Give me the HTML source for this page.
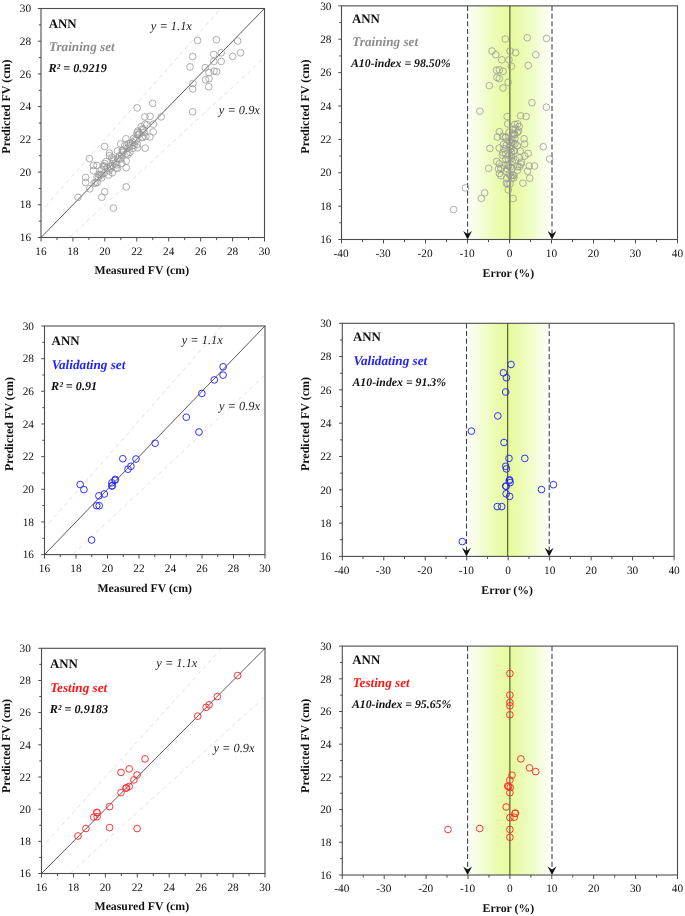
<!DOCTYPE html>
<html><head><meta charset="utf-8"><title>ANN FV prediction</title>
<style>html,body{margin:0;padding:0;background:#fff;}svg{display:block;}text{font-family:"Liberation Serif",serif;}</style></head>
<body>
<svg width="685" height="916" viewBox="0 0 685 916" style="will-change:transform" text-rendering="geometricPrecision">
<rect width="685" height="916" fill="#fff"/>
<defs><linearGradient id="gg" x1="0" x2="1" y1="0" y2="0"><stop offset="0" stop-color="#ffffff"/><stop offset="0.23" stop-color="#f0fdc8"/><stop offset="0.5" stop-color="#e6fb98"/><stop offset="0.77" stop-color="#f0fdc8"/><stop offset="1" stop-color="#ffffff"/></linearGradient></defs>
<clipPath id="ctl"><rect x="41.0" y="8.5" width="223.5" height="229.0"/></clipPath>
<g clip-path="url(#ctl)">
<line x1="9.07" y1="247.31" x2="264.50" y2="-40.57" stroke="#dcdcdc" stroke-width="0.9" stroke-dasharray="4.2 3.6"/>
<line x1="41.00" y1="263.67" x2="296.43" y2="28.13" stroke="#dcdcdc" stroke-width="0.9" stroke-dasharray="4.2 3.6"/>
<line x1="41.00" y1="237.50" x2="264.50" y2="8.50" stroke="#5a5a5a" stroke-width="1"/>
<circle cx="78.0" cy="197.3" r="3.35" fill="none" stroke="#989898" stroke-width="0.78"/>
<circle cx="113.4" cy="208.1" r="3.35" fill="none" stroke="#989898" stroke-width="0.78"/>
<circle cx="101.8" cy="197.2" r="3.35" fill="none" stroke="#989898" stroke-width="0.78"/>
<circle cx="104.7" cy="191.8" r="3.35" fill="none" stroke="#989898" stroke-width="0.78"/>
<circle cx="126.2" cy="186.9" r="3.35" fill="none" stroke="#989898" stroke-width="0.78"/>
<circle cx="89.4" cy="158.6" r="3.35" fill="none" stroke="#989898" stroke-width="0.78"/>
<circle cx="104.6" cy="146.5" r="3.35" fill="none" stroke="#989898" stroke-width="0.78"/>
<circle cx="85.6" cy="177.4" r="3.35" fill="none" stroke="#989898" stroke-width="0.78"/>
<circle cx="85.6" cy="182.3" r="3.35" fill="none" stroke="#989898" stroke-width="0.78"/>
<circle cx="89.7" cy="188.8" r="3.35" fill="none" stroke="#989898" stroke-width="0.78"/>
<circle cx="109.4" cy="153.1" r="3.35" fill="none" stroke="#989898" stroke-width="0.78"/>
<circle cx="109.4" cy="155.7" r="3.35" fill="none" stroke="#989898" stroke-width="0.78"/>
<circle cx="120.7" cy="143.9" r="3.35" fill="none" stroke="#989898" stroke-width="0.78"/>
<circle cx="125.9" cy="138.8" r="3.35" fill="none" stroke="#989898" stroke-width="0.78"/>
<circle cx="145.2" cy="148.2" r="3.35" fill="none" stroke="#989898" stroke-width="0.78"/>
<circle cx="149.9" cy="137.0" r="3.35" fill="none" stroke="#989898" stroke-width="0.78"/>
<circle cx="153.2" cy="131.9" r="3.35" fill="none" stroke="#989898" stroke-width="0.78"/>
<circle cx="153.5" cy="124.2" r="3.35" fill="none" stroke="#989898" stroke-width="0.78"/>
<circle cx="161.2" cy="116.9" r="3.35" fill="none" stroke="#989898" stroke-width="0.78"/>
<circle cx="150.0" cy="116.3" r="3.35" fill="none" stroke="#989898" stroke-width="0.78"/>
<circle cx="144.9" cy="116.9" r="3.35" fill="none" stroke="#989898" stroke-width="0.78"/>
<circle cx="144.9" cy="124.2" r="3.35" fill="none" stroke="#989898" stroke-width="0.78"/>
<circle cx="126.2" cy="167.7" r="3.35" fill="none" stroke="#989898" stroke-width="0.78"/>
<circle cx="126.2" cy="161.1" r="3.35" fill="none" stroke="#989898" stroke-width="0.78"/>
<circle cx="93.4" cy="165.5" r="3.35" fill="none" stroke="#989898" stroke-width="0.78"/>
<circle cx="97.0" cy="165.5" r="3.35" fill="none" stroke="#989898" stroke-width="0.78"/>
<circle cx="93.4" cy="170.6" r="3.35" fill="none" stroke="#989898" stroke-width="0.78"/>
<circle cx="104.7" cy="163.6" r="3.35" fill="none" stroke="#989898" stroke-width="0.78"/>
<circle cx="104.7" cy="166.2" r="3.35" fill="none" stroke="#989898" stroke-width="0.78"/>
<circle cx="137.2" cy="132.6" r="3.35" fill="none" stroke="#989898" stroke-width="0.78"/>
<circle cx="137.2" cy="134.8" r="3.35" fill="none" stroke="#989898" stroke-width="0.78"/>
<circle cx="142.3" cy="129.0" r="3.35" fill="none" stroke="#989898" stroke-width="0.78"/>
<circle cx="142.3" cy="137.7" r="3.35" fill="none" stroke="#989898" stroke-width="0.78"/>
<circle cx="133.5" cy="138.5" r="3.35" fill="none" stroke="#989898" stroke-width="0.78"/>
<circle cx="137.2" cy="144.3" r="3.35" fill="none" stroke="#989898" stroke-width="0.78"/>
<circle cx="129.9" cy="145.8" r="3.35" fill="none" stroke="#989898" stroke-width="0.78"/>
<circle cx="129.9" cy="152.3" r="3.35" fill="none" stroke="#989898" stroke-width="0.78"/>
<circle cx="117.4" cy="150.9" r="3.35" fill="none" stroke="#989898" stroke-width="0.78"/>
<circle cx="117.4" cy="158.2" r="3.35" fill="none" stroke="#989898" stroke-width="0.78"/>
<circle cx="121.8" cy="155.3" r="3.35" fill="none" stroke="#989898" stroke-width="0.78"/>
<circle cx="121.8" cy="163.3" r="3.35" fill="none" stroke="#989898" stroke-width="0.78"/>
<circle cx="117.4" cy="168.4" r="3.35" fill="none" stroke="#989898" stroke-width="0.78"/>
<circle cx="112.3" cy="172.8" r="3.35" fill="none" stroke="#989898" stroke-width="0.78"/>
<circle cx="108.7" cy="175.0" r="3.35" fill="none" stroke="#989898" stroke-width="0.78"/>
<circle cx="101.4" cy="175.0" r="3.35" fill="none" stroke="#989898" stroke-width="0.78"/>
<circle cx="97.0" cy="177.2" r="3.35" fill="none" stroke="#989898" stroke-width="0.78"/>
<circle cx="94.1" cy="183.0" r="3.35" fill="none" stroke="#989898" stroke-width="0.78"/>
<circle cx="101.4" cy="169.9" r="3.35" fill="none" stroke="#989898" stroke-width="0.78"/>
<circle cx="112.3" cy="165.5" r="3.35" fill="none" stroke="#989898" stroke-width="0.78"/>
<circle cx="113.8" cy="161.1" r="3.35" fill="none" stroke="#989898" stroke-width="0.78"/>
<circle cx="197.6" cy="40.4" r="3.35" fill="none" stroke="#989898" stroke-width="0.78"/>
<circle cx="216.4" cy="39.7" r="3.35" fill="none" stroke="#989898" stroke-width="0.78"/>
<circle cx="237.7" cy="41.0" r="3.35" fill="none" stroke="#989898" stroke-width="0.78"/>
<circle cx="240.6" cy="52.8" r="3.35" fill="none" stroke="#989898" stroke-width="0.78"/>
<circle cx="232.7" cy="56.4" r="3.35" fill="none" stroke="#989898" stroke-width="0.78"/>
<circle cx="221.2" cy="52.8" r="3.35" fill="none" stroke="#989898" stroke-width="0.78"/>
<circle cx="213.8" cy="54.4" r="3.35" fill="none" stroke="#989898" stroke-width="0.78"/>
<circle cx="221.2" cy="61.4" r="3.35" fill="none" stroke="#989898" stroke-width="0.78"/>
<circle cx="213.8" cy="61.4" r="3.35" fill="none" stroke="#989898" stroke-width="0.78"/>
<circle cx="192.7" cy="56.5" r="3.35" fill="none" stroke="#989898" stroke-width="0.78"/>
<circle cx="190.0" cy="66.9" r="3.35" fill="none" stroke="#989898" stroke-width="0.78"/>
<circle cx="205.2" cy="67.7" r="3.35" fill="none" stroke="#989898" stroke-width="0.78"/>
<circle cx="214.0" cy="71.2" r="3.35" fill="none" stroke="#989898" stroke-width="0.78"/>
<circle cx="216.6" cy="71.6" r="3.35" fill="none" stroke="#989898" stroke-width="0.78"/>
<circle cx="208.8" cy="72.6" r="3.35" fill="none" stroke="#989898" stroke-width="0.78"/>
<circle cx="205.5" cy="79.8" r="3.35" fill="none" stroke="#989898" stroke-width="0.78"/>
<circle cx="209.0" cy="78.7" r="3.35" fill="none" stroke="#989898" stroke-width="0.78"/>
<circle cx="208.8" cy="86.7" r="3.35" fill="none" stroke="#989898" stroke-width="0.78"/>
<circle cx="193.0" cy="83.5" r="3.35" fill="none" stroke="#989898" stroke-width="0.78"/>
<circle cx="192.6" cy="89.0" r="3.35" fill="none" stroke="#989898" stroke-width="0.78"/>
<circle cx="192.6" cy="111.8" r="3.35" fill="none" stroke="#989898" stroke-width="0.78"/>
<circle cx="137.2" cy="107.8" r="3.35" fill="none" stroke="#989898" stroke-width="0.78"/>
<circle cx="152.7" cy="103.4" r="3.35" fill="none" stroke="#989898" stroke-width="0.78"/>
<circle cx="137.5" cy="147.8" r="3.35" fill="none" stroke="#989898" stroke-width="0.78"/>
<circle cx="127.0" cy="148.4" r="3.35" fill="none" stroke="#989898" stroke-width="0.78"/>
<circle cx="132.8" cy="148.4" r="3.35" fill="none" stroke="#989898" stroke-width="0.78"/>
<circle cx="122.3" cy="150.7" r="3.35" fill="none" stroke="#989898" stroke-width="0.78"/>
<circle cx="95.7" cy="183.0" r="3.35" fill="none" stroke="#989898" stroke-width="0.78"/>
<circle cx="97.3" cy="182.4" r="3.35" fill="none" stroke="#989898" stroke-width="0.78"/>
<circle cx="98.5" cy="177.3" r="3.35" fill="none" stroke="#989898" stroke-width="0.78"/>
<circle cx="99.1" cy="174.7" r="3.35" fill="none" stroke="#989898" stroke-width="0.78"/>
<circle cx="100.3" cy="174.5" r="3.35" fill="none" stroke="#989898" stroke-width="0.78"/>
<circle cx="101.6" cy="177.8" r="3.35" fill="none" stroke="#989898" stroke-width="0.78"/>
<circle cx="103.3" cy="166.1" r="3.35" fill="none" stroke="#989898" stroke-width="0.78"/>
<circle cx="104.2" cy="173.3" r="3.35" fill="none" stroke="#989898" stroke-width="0.78"/>
<circle cx="106.1" cy="161.7" r="3.35" fill="none" stroke="#989898" stroke-width="0.78"/>
<circle cx="107.3" cy="167.9" r="3.35" fill="none" stroke="#989898" stroke-width="0.78"/>
<circle cx="109.0" cy="170.8" r="3.35" fill="none" stroke="#989898" stroke-width="0.78"/>
<circle cx="110.2" cy="166.4" r="3.35" fill="none" stroke="#989898" stroke-width="0.78"/>
<circle cx="110.5" cy="168.3" r="3.35" fill="none" stroke="#989898" stroke-width="0.78"/>
<circle cx="112.0" cy="157.4" r="3.35" fill="none" stroke="#989898" stroke-width="0.78"/>
<circle cx="113.1" cy="159.5" r="3.35" fill="none" stroke="#989898" stroke-width="0.78"/>
<circle cx="114.9" cy="163.9" r="3.35" fill="none" stroke="#989898" stroke-width="0.78"/>
<circle cx="116.0" cy="167.8" r="3.35" fill="none" stroke="#989898" stroke-width="0.78"/>
<circle cx="116.7" cy="164.8" r="3.35" fill="none" stroke="#989898" stroke-width="0.78"/>
<circle cx="118.7" cy="159.1" r="3.35" fill="none" stroke="#989898" stroke-width="0.78"/>
<circle cx="119.5" cy="155.7" r="3.35" fill="none" stroke="#989898" stroke-width="0.78"/>
<circle cx="120.9" cy="158.9" r="3.35" fill="none" stroke="#989898" stroke-width="0.78"/>
<circle cx="122.6" cy="150.6" r="3.35" fill="none" stroke="#989898" stroke-width="0.78"/>
<circle cx="123.2" cy="152.1" r="3.35" fill="none" stroke="#989898" stroke-width="0.78"/>
<circle cx="124.8" cy="145.5" r="3.35" fill="none" stroke="#989898" stroke-width="0.78"/>
<circle cx="126.3" cy="153.6" r="3.35" fill="none" stroke="#989898" stroke-width="0.78"/>
<circle cx="127.9" cy="154.7" r="3.35" fill="none" stroke="#989898" stroke-width="0.78"/>
<circle cx="128.4" cy="143.7" r="3.35" fill="none" stroke="#989898" stroke-width="0.78"/>
<circle cx="129.3" cy="147.2" r="3.35" fill="none" stroke="#989898" stroke-width="0.78"/>
<circle cx="130.4" cy="143.1" r="3.35" fill="none" stroke="#989898" stroke-width="0.78"/>
<circle cx="132.6" cy="142.4" r="3.35" fill="none" stroke="#989898" stroke-width="0.78"/>
<circle cx="134.0" cy="145.3" r="3.35" fill="none" stroke="#989898" stroke-width="0.78"/>
<circle cx="135.0" cy="139.6" r="3.35" fill="none" stroke="#989898" stroke-width="0.78"/>
<circle cx="136.1" cy="140.7" r="3.35" fill="none" stroke="#989898" stroke-width="0.78"/>
<circle cx="137.7" cy="131.1" r="3.35" fill="none" stroke="#989898" stroke-width="0.78"/>
<circle cx="138.5" cy="134.9" r="3.35" fill="none" stroke="#989898" stroke-width="0.78"/>
<circle cx="139.3" cy="133.5" r="3.35" fill="none" stroke="#989898" stroke-width="0.78"/>
<circle cx="141.2" cy="126.7" r="3.35" fill="none" stroke="#989898" stroke-width="0.78"/>
<circle cx="142.7" cy="136.8" r="3.35" fill="none" stroke="#989898" stroke-width="0.78"/>
<circle cx="143.4" cy="129.8" r="3.35" fill="none" stroke="#989898" stroke-width="0.78"/>
<circle cx="144.2" cy="132.4" r="3.35" fill="none" stroke="#989898" stroke-width="0.78"/>
<circle cx="145.7" cy="136.5" r="3.35" fill="none" stroke="#989898" stroke-width="0.78"/>
<circle cx="146.8" cy="124.7" r="3.35" fill="none" stroke="#989898" stroke-width="0.78"/>
</g>
<rect x="41.00" y="8.50" width="223.50" height="229.00" fill="none" stroke="#4d4d4d" stroke-width="1.1"/>
<text x="150.80" y="29.50" font-size="12.4" font-style="italic" font-family="Liberation Serif, serif" fill="#222">y = 1.1x</text>
<text x="218.80" y="114.40" font-size="12.4" font-style="italic" font-family="Liberation Serif, serif" fill="#222">y = 0.9x</text>
<line x1="37.80" y1="237.50" x2="41.00" y2="237.50" stroke="#4d4d4d" stroke-width="1"/>
<text x="31.10" y="241.20" text-anchor="end" font-size="11.3" font-family="Liberation Serif, serif" fill="#111">16</text>
<line x1="38.80" y1="221.14" x2="41.00" y2="221.14" stroke="#4d4d4d" stroke-width="1"/>
<line x1="37.80" y1="204.79" x2="41.00" y2="204.79" stroke="#4d4d4d" stroke-width="1"/>
<text x="31.10" y="208.49" text-anchor="end" font-size="11.3" font-family="Liberation Serif, serif" fill="#111">18</text>
<line x1="38.80" y1="188.43" x2="41.00" y2="188.43" stroke="#4d4d4d" stroke-width="1"/>
<line x1="37.80" y1="172.07" x2="41.00" y2="172.07" stroke="#4d4d4d" stroke-width="1"/>
<text x="31.10" y="175.77" text-anchor="end" font-size="11.3" font-family="Liberation Serif, serif" fill="#111">20</text>
<line x1="38.80" y1="155.71" x2="41.00" y2="155.71" stroke="#4d4d4d" stroke-width="1"/>
<line x1="37.80" y1="139.36" x2="41.00" y2="139.36" stroke="#4d4d4d" stroke-width="1"/>
<text x="31.10" y="143.06" text-anchor="end" font-size="11.3" font-family="Liberation Serif, serif" fill="#111">22</text>
<line x1="38.80" y1="123.00" x2="41.00" y2="123.00" stroke="#4d4d4d" stroke-width="1"/>
<line x1="37.80" y1="106.64" x2="41.00" y2="106.64" stroke="#4d4d4d" stroke-width="1"/>
<text x="31.10" y="110.34" text-anchor="end" font-size="11.3" font-family="Liberation Serif, serif" fill="#111">24</text>
<line x1="38.80" y1="90.29" x2="41.00" y2="90.29" stroke="#4d4d4d" stroke-width="1"/>
<line x1="37.80" y1="73.93" x2="41.00" y2="73.93" stroke="#4d4d4d" stroke-width="1"/>
<text x="31.10" y="77.63" text-anchor="end" font-size="11.3" font-family="Liberation Serif, serif" fill="#111">26</text>
<line x1="38.80" y1="57.57" x2="41.00" y2="57.57" stroke="#4d4d4d" stroke-width="1"/>
<line x1="37.80" y1="41.21" x2="41.00" y2="41.21" stroke="#4d4d4d" stroke-width="1"/>
<text x="31.10" y="44.91" text-anchor="end" font-size="11.3" font-family="Liberation Serif, serif" fill="#111">28</text>
<line x1="38.80" y1="24.86" x2="41.00" y2="24.86" stroke="#4d4d4d" stroke-width="1"/>
<line x1="37.80" y1="8.50" x2="41.00" y2="8.50" stroke="#4d4d4d" stroke-width="1"/>
<text x="31.10" y="12.20" text-anchor="end" font-size="11.3" font-family="Liberation Serif, serif" fill="#111">30</text>
<line x1="41.00" y1="237.50" x2="41.00" y2="241.50" stroke="#4d4d4d" stroke-width="1"/>
<text x="41.00" y="254.80" text-anchor="middle" font-size="11.3" font-family="Liberation Serif, serif" fill="#111">16</text>
<line x1="56.96" y1="237.50" x2="56.96" y2="240.10" stroke="#4d4d4d" stroke-width="1"/>
<line x1="72.93" y1="237.50" x2="72.93" y2="241.50" stroke="#4d4d4d" stroke-width="1"/>
<text x="72.93" y="254.80" text-anchor="middle" font-size="11.3" font-family="Liberation Serif, serif" fill="#111">18</text>
<line x1="88.89" y1="237.50" x2="88.89" y2="240.10" stroke="#4d4d4d" stroke-width="1"/>
<line x1="104.86" y1="237.50" x2="104.86" y2="241.50" stroke="#4d4d4d" stroke-width="1"/>
<text x="104.86" y="254.80" text-anchor="middle" font-size="11.3" font-family="Liberation Serif, serif" fill="#111">20</text>
<line x1="120.82" y1="237.50" x2="120.82" y2="240.10" stroke="#4d4d4d" stroke-width="1"/>
<line x1="136.79" y1="237.50" x2="136.79" y2="241.50" stroke="#4d4d4d" stroke-width="1"/>
<text x="136.79" y="254.80" text-anchor="middle" font-size="11.3" font-family="Liberation Serif, serif" fill="#111">22</text>
<line x1="152.75" y1="237.50" x2="152.75" y2="240.10" stroke="#4d4d4d" stroke-width="1"/>
<line x1="168.71" y1="237.50" x2="168.71" y2="241.50" stroke="#4d4d4d" stroke-width="1"/>
<text x="168.71" y="254.80" text-anchor="middle" font-size="11.3" font-family="Liberation Serif, serif" fill="#111">24</text>
<line x1="184.68" y1="237.50" x2="184.68" y2="240.10" stroke="#4d4d4d" stroke-width="1"/>
<line x1="200.64" y1="237.50" x2="200.64" y2="241.50" stroke="#4d4d4d" stroke-width="1"/>
<text x="200.64" y="254.80" text-anchor="middle" font-size="11.3" font-family="Liberation Serif, serif" fill="#111">26</text>
<line x1="216.61" y1="237.50" x2="216.61" y2="240.10" stroke="#4d4d4d" stroke-width="1"/>
<line x1="232.57" y1="237.50" x2="232.57" y2="241.50" stroke="#4d4d4d" stroke-width="1"/>
<text x="232.57" y="254.80" text-anchor="middle" font-size="11.3" font-family="Liberation Serif, serif" fill="#111">28</text>
<line x1="248.54" y1="237.50" x2="248.54" y2="240.10" stroke="#4d4d4d" stroke-width="1"/>
<line x1="264.50" y1="237.50" x2="264.50" y2="241.50" stroke="#4d4d4d" stroke-width="1"/>
<text x="264.50" y="254.80" text-anchor="middle" font-size="11.3" font-family="Liberation Serif, serif" fill="#111">30</text>
<text transform="translate(10.10,106.60) rotate(-90)" text-anchor="middle" font-size="12" font-weight="bold" font-family="Liberation Serif, serif" fill="#111">Predicted FV (cm)</text>
<text x="141.80" y="273.80" text-anchor="middle" font-size="11.8" font-weight="bold" font-family="Liberation Serif, serif" fill="#111">Measured FV (cm)</text>
<text x="48.70" y="27.70" font-size="12.9" font-weight="bold" font-family="Liberation Serif, serif" fill="#111">ANN</text>
<text x="48.90" y="50.60" font-size="13.2" font-weight="bold" font-style="italic" font-family="Liberation Serif, serif" fill="#8c8c8c">Training set</text>
<text x="48.40" y="71.80" font-size="12.2" font-weight="bold" font-style="italic" font-family="Liberation Serif, serif" fill="#111">R² = 0.9219</text>
<rect x="467.60" y="5.85" width="84.40" height="233.65" fill="url(#gg)"/>
<line x1="509.90" y1="5.85" x2="509.90" y2="239.50" stroke="#3a3a3a" stroke-width="1"/>
<line x1="467.60" y1="5.85" x2="467.60" y2="234.50" stroke="#3c3c3c" stroke-width="1.05" stroke-dasharray="5.1 2.6"/>
<path d="M467.60 239.50 L463.20 230.90 L467.60 234.10 L472.00 230.90 Z" fill="#111"/>
<line x1="552.00" y1="5.85" x2="552.00" y2="234.50" stroke="#3c3c3c" stroke-width="1.05" stroke-dasharray="5.1 2.6"/>
<path d="M552.00 239.50 L547.60 230.90 L552.00 234.10 L556.40 230.90 Z" fill="#111"/>
<circle cx="513.1" cy="198.5" r="3.35" fill="none" stroke="#989898" stroke-width="0.78"/>
<circle cx="453.6" cy="209.5" r="3.35" fill="none" stroke="#989898" stroke-width="0.78"/>
<circle cx="481.3" cy="198.4" r="3.35" fill="none" stroke="#989898" stroke-width="0.78"/>
<circle cx="484.6" cy="192.9" r="3.35" fill="none" stroke="#989898" stroke-width="0.78"/>
<circle cx="465.5" cy="187.9" r="3.35" fill="none" stroke="#989898" stroke-width="0.78"/>
<circle cx="549.6" cy="159.0" r="3.35" fill="none" stroke="#989898" stroke-width="0.78"/>
<circle cx="543.3" cy="146.7" r="3.35" fill="none" stroke="#989898" stroke-width="0.78"/>
<circle cx="529.7" cy="178.2" r="3.35" fill="none" stroke="#989898" stroke-width="0.78"/>
<circle cx="522.9" cy="183.2" r="3.35" fill="none" stroke="#989898" stroke-width="0.78"/>
<circle cx="508.3" cy="189.8" r="3.35" fill="none" stroke="#989898" stroke-width="0.78"/>
<circle cx="528.1" cy="153.4" r="3.35" fill="none" stroke="#989898" stroke-width="0.78"/>
<circle cx="524.8" cy="156.0" r="3.35" fill="none" stroke="#989898" stroke-width="0.78"/>
<circle cx="524.6" cy="144.0" r="3.35" fill="none" stroke="#989898" stroke-width="0.78"/>
<circle cx="524.1" cy="138.8" r="3.35" fill="none" stroke="#989898" stroke-width="0.78"/>
<circle cx="489.9" cy="148.4" r="3.35" fill="none" stroke="#989898" stroke-width="0.78"/>
<circle cx="497.4" cy="137.0" r="3.35" fill="none" stroke="#989898" stroke-width="0.78"/>
<circle cx="499.4" cy="131.8" r="3.35" fill="none" stroke="#989898" stroke-width="0.78"/>
<circle cx="507.7" cy="123.9" r="3.35" fill="none" stroke="#989898" stroke-width="0.78"/>
<circle cx="507.1" cy="116.5" r="3.35" fill="none" stroke="#989898" stroke-width="0.78"/>
<circle cx="520.7" cy="115.8" r="3.35" fill="none" stroke="#989898" stroke-width="0.78"/>
<circle cx="526.1" cy="116.5" r="3.35" fill="none" stroke="#989898" stroke-width="0.78"/>
<circle cx="517.7" cy="123.9" r="3.35" fill="none" stroke="#989898" stroke-width="0.78"/>
<circle cx="488.7" cy="168.3" r="3.35" fill="none" stroke="#989898" stroke-width="0.78"/>
<circle cx="496.7" cy="161.5" r="3.35" fill="none" stroke="#989898" stroke-width="0.78"/>
<circle cx="534.4" cy="166.0" r="3.35" fill="none" stroke="#989898" stroke-width="0.78"/>
<circle cx="529.2" cy="166.0" r="3.35" fill="none" stroke="#989898" stroke-width="0.78"/>
<circle cx="527.6" cy="171.2" r="3.35" fill="none" stroke="#989898" stroke-width="0.78"/>
<circle cx="521.0" cy="164.1" r="3.35" fill="none" stroke="#989898" stroke-width="0.78"/>
<circle cx="517.7" cy="166.8" r="3.35" fill="none" stroke="#989898" stroke-width="0.78"/>
<circle cx="517.3" cy="132.5" r="3.35" fill="none" stroke="#989898" stroke-width="0.78"/>
<circle cx="514.7" cy="134.7" r="3.35" fill="none" stroke="#989898" stroke-width="0.78"/>
<circle cx="515.3" cy="128.8" r="3.35" fill="none" stroke="#989898" stroke-width="0.78"/>
<circle cx="505.3" cy="137.7" r="3.35" fill="none" stroke="#989898" stroke-width="0.78"/>
<circle cx="514.9" cy="138.5" r="3.35" fill="none" stroke="#989898" stroke-width="0.78"/>
<circle cx="503.6" cy="144.4" r="3.35" fill="none" stroke="#989898" stroke-width="0.78"/>
<circle cx="510.6" cy="145.9" r="3.35" fill="none" stroke="#989898" stroke-width="0.78"/>
<circle cx="502.9" cy="152.6" r="3.35" fill="none" stroke="#989898" stroke-width="0.78"/>
<circle cx="520.2" cy="151.1" r="3.35" fill="none" stroke="#989898" stroke-width="0.78"/>
<circle cx="511.2" cy="158.6" r="3.35" fill="none" stroke="#989898" stroke-width="0.78"/>
<circle cx="509.2" cy="155.6" r="3.35" fill="none" stroke="#989898" stroke-width="0.78"/>
<circle cx="499.4" cy="163.8" r="3.35" fill="none" stroke="#989898" stroke-width="0.78"/>
<circle cx="498.5" cy="169.0" r="3.35" fill="none" stroke="#989898" stroke-width="0.78"/>
<circle cx="499.4" cy="173.5" r="3.35" fill="none" stroke="#989898" stroke-width="0.78"/>
<circle cx="501.1" cy="175.7" r="3.35" fill="none" stroke="#989898" stroke-width="0.78"/>
<circle cx="510.7" cy="175.7" r="3.35" fill="none" stroke="#989898" stroke-width="0.78"/>
<circle cx="513.8" cy="178.0" r="3.35" fill="none" stroke="#989898" stroke-width="0.78"/>
<circle cx="510.0" cy="183.9" r="3.35" fill="none" stroke="#989898" stroke-width="0.78"/>
<circle cx="517.4" cy="170.5" r="3.35" fill="none" stroke="#989898" stroke-width="0.78"/>
<circle cx="508.6" cy="166.0" r="3.35" fill="none" stroke="#989898" stroke-width="0.78"/>
<circle cx="512.2" cy="161.5" r="3.35" fill="none" stroke="#989898" stroke-width="0.78"/>
<circle cx="546.5" cy="38.4" r="3.35" fill="none" stroke="#989898" stroke-width="0.78"/>
<circle cx="527.2" cy="37.7" r="3.35" fill="none" stroke="#989898" stroke-width="0.78"/>
<circle cx="505.3" cy="39.0" r="3.35" fill="none" stroke="#989898" stroke-width="0.78"/>
<circle cx="492.0" cy="51.0" r="3.35" fill="none" stroke="#989898" stroke-width="0.78"/>
<circle cx="495.8" cy="54.7" r="3.35" fill="none" stroke="#989898" stroke-width="0.78"/>
<circle cx="510.0" cy="51.0" r="3.35" fill="none" stroke="#989898" stroke-width="0.78"/>
<circle cx="515.7" cy="52.7" r="3.35" fill="none" stroke="#989898" stroke-width="0.78"/>
<circle cx="501.8" cy="59.8" r="3.35" fill="none" stroke="#989898" stroke-width="0.78"/>
<circle cx="509.0" cy="59.8" r="3.35" fill="none" stroke="#989898" stroke-width="0.78"/>
<circle cx="535.8" cy="54.8" r="3.35" fill="none" stroke="#989898" stroke-width="0.78"/>
<circle cx="528.2" cy="65.4" r="3.35" fill="none" stroke="#989898" stroke-width="0.78"/>
<circle cx="511.4" cy="66.3" r="3.35" fill="none" stroke="#989898" stroke-width="0.78"/>
<circle cx="499.4" cy="69.8" r="3.35" fill="none" stroke="#989898" stroke-width="0.78"/>
<circle cx="496.5" cy="70.2" r="3.35" fill="none" stroke="#989898" stroke-width="0.78"/>
<circle cx="503.1" cy="71.3" r="3.35" fill="none" stroke="#989898" stroke-width="0.78"/>
<circle cx="499.3" cy="78.6" r="3.35" fill="none" stroke="#989898" stroke-width="0.78"/>
<circle cx="496.9" cy="77.5" r="3.35" fill="none" stroke="#989898" stroke-width="0.78"/>
<circle cx="489.3" cy="85.6" r="3.35" fill="none" stroke="#989898" stroke-width="0.78"/>
<circle cx="508.1" cy="82.4" r="3.35" fill="none" stroke="#989898" stroke-width="0.78"/>
<circle cx="503.0" cy="88.0" r="3.35" fill="none" stroke="#989898" stroke-width="0.78"/>
<circle cx="479.9" cy="111.2" r="3.35" fill="none" stroke="#989898" stroke-width="0.78"/>
<circle cx="546.4" cy="107.2" r="3.35" fill="none" stroke="#989898" stroke-width="0.78"/>
<circle cx="531.9" cy="102.7" r="3.35" fill="none" stroke="#989898" stroke-width="0.78"/>
<circle cx="499.2" cy="148.0" r="3.35" fill="none" stroke="#989898" stroke-width="0.78"/>
<circle cx="511.1" cy="148.6" r="3.35" fill="none" stroke="#989898" stroke-width="0.78"/>
<circle cx="504.0" cy="148.6" r="3.35" fill="none" stroke="#989898" stroke-width="0.78"/>
<circle cx="514.2" cy="150.9" r="3.35" fill="none" stroke="#989898" stroke-width="0.78"/>
<circle cx="507.8" cy="183.9" r="3.35" fill="none" stroke="#989898" stroke-width="0.78"/>
<circle cx="506.4" cy="183.3" r="3.35" fill="none" stroke="#989898" stroke-width="0.78"/>
<circle cx="511.6" cy="178.1" r="3.35" fill="none" stroke="#989898" stroke-width="0.78"/>
<circle cx="514.1" cy="175.5" r="3.35" fill="none" stroke="#989898" stroke-width="0.78"/>
<circle cx="512.8" cy="175.2" r="3.35" fill="none" stroke="#989898" stroke-width="0.78"/>
<circle cx="506.8" cy="178.5" r="3.35" fill="none" stroke="#989898" stroke-width="0.78"/>
<circle cx="519.6" cy="166.7" r="3.35" fill="none" stroke="#989898" stroke-width="0.78"/>
<circle cx="509.1" cy="174.0" r="3.35" fill="none" stroke="#989898" stroke-width="0.78"/>
<circle cx="521.6" cy="162.1" r="3.35" fill="none" stroke="#989898" stroke-width="0.78"/>
<circle cx="512.1" cy="168.4" r="3.35" fill="none" stroke="#989898" stroke-width="0.78"/>
<circle cx="506.1" cy="171.4" r="3.35" fill="none" stroke="#989898" stroke-width="0.78"/>
<circle cx="510.3" cy="166.9" r="3.35" fill="none" stroke="#989898" stroke-width="0.78"/>
<circle cx="507.3" cy="168.9" r="3.35" fill="none" stroke="#989898" stroke-width="0.78"/>
<circle cx="519.2" cy="157.8" r="3.35" fill="none" stroke="#989898" stroke-width="0.78"/>
<circle cx="515.2" cy="159.9" r="3.35" fill="none" stroke="#989898" stroke-width="0.78"/>
<circle cx="507.3" cy="164.4" r="3.35" fill="none" stroke="#989898" stroke-width="0.78"/>
<circle cx="501.0" cy="168.4" r="3.35" fill="none" stroke="#989898" stroke-width="0.78"/>
<circle cx="503.9" cy="165.3" r="3.35" fill="none" stroke="#989898" stroke-width="0.78"/>
<circle cx="508.4" cy="159.5" r="3.35" fill="none" stroke="#989898" stroke-width="0.78"/>
<circle cx="511.6" cy="156.0" r="3.35" fill="none" stroke="#989898" stroke-width="0.78"/>
<circle cx="505.9" cy="159.3" r="3.35" fill="none" stroke="#989898" stroke-width="0.78"/>
<circle cx="513.9" cy="150.9" r="3.35" fill="none" stroke="#989898" stroke-width="0.78"/>
<circle cx="511.4" cy="152.3" r="3.35" fill="none" stroke="#989898" stroke-width="0.78"/>
<circle cx="517.4" cy="145.6" r="3.35" fill="none" stroke="#989898" stroke-width="0.78"/>
<circle cx="505.7" cy="153.9" r="3.35" fill="none" stroke="#989898" stroke-width="0.78"/>
<circle cx="502.4" cy="155.1" r="3.35" fill="none" stroke="#989898" stroke-width="0.78"/>
<circle cx="515.0" cy="143.8" r="3.35" fill="none" stroke="#989898" stroke-width="0.78"/>
<circle cx="509.7" cy="147.3" r="3.35" fill="none" stroke="#989898" stroke-width="0.78"/>
<circle cx="513.2" cy="143.2" r="3.35" fill="none" stroke="#989898" stroke-width="0.78"/>
<circle cx="511.3" cy="142.5" r="3.35" fill="none" stroke="#989898" stroke-width="0.78"/>
<circle cx="506.3" cy="145.4" r="3.35" fill="none" stroke="#989898" stroke-width="0.78"/>
<circle cx="511.7" cy="139.6" r="3.35" fill="none" stroke="#989898" stroke-width="0.78"/>
<circle cx="509.1" cy="140.8" r="3.35" fill="none" stroke="#989898" stroke-width="0.78"/>
<circle cx="518.4" cy="131.0" r="3.35" fill="none" stroke="#989898" stroke-width="0.78"/>
<circle cx="513.0" cy="134.8" r="3.35" fill="none" stroke="#989898" stroke-width="0.78"/>
<circle cx="513.7" cy="133.4" r="3.35" fill="none" stroke="#989898" stroke-width="0.78"/>
<circle cx="519.2" cy="126.5" r="3.35" fill="none" stroke="#989898" stroke-width="0.78"/>
<circle cx="505.8" cy="136.8" r="3.35" fill="none" stroke="#989898" stroke-width="0.78"/>
<circle cx="513.1" cy="129.6" r="3.35" fill="none" stroke="#989898" stroke-width="0.78"/>
<circle cx="509.2" cy="132.2" r="3.35" fill="none" stroke="#989898" stroke-width="0.78"/>
<circle cx="502.7" cy="136.5" r="3.35" fill="none" stroke="#989898" stroke-width="0.78"/>
<circle cx="514.9" cy="124.4" r="3.35" fill="none" stroke="#989898" stroke-width="0.78"/>
<rect x="341.50" y="5.85" width="336.00" height="233.65" fill="none" stroke="#4d4d4d" stroke-width="1.1"/>
<line x1="338.30" y1="239.50" x2="341.50" y2="239.50" stroke="#4d4d4d" stroke-width="1"/>
<text x="331.50" y="243.20" text-anchor="end" font-size="11.3" font-family="Liberation Serif, serif" fill="#111">16</text>
<line x1="339.30" y1="222.81" x2="341.50" y2="222.81" stroke="#4d4d4d" stroke-width="1"/>
<line x1="338.30" y1="206.12" x2="341.50" y2="206.12" stroke="#4d4d4d" stroke-width="1"/>
<text x="331.50" y="209.82" text-anchor="end" font-size="11.3" font-family="Liberation Serif, serif" fill="#111">18</text>
<line x1="339.30" y1="189.43" x2="341.50" y2="189.43" stroke="#4d4d4d" stroke-width="1"/>
<line x1="338.30" y1="172.74" x2="341.50" y2="172.74" stroke="#4d4d4d" stroke-width="1"/>
<text x="331.50" y="176.44" text-anchor="end" font-size="11.3" font-family="Liberation Serif, serif" fill="#111">20</text>
<line x1="339.30" y1="156.05" x2="341.50" y2="156.05" stroke="#4d4d4d" stroke-width="1"/>
<line x1="338.30" y1="139.36" x2="341.50" y2="139.36" stroke="#4d4d4d" stroke-width="1"/>
<text x="331.50" y="143.06" text-anchor="end" font-size="11.3" font-family="Liberation Serif, serif" fill="#111">22</text>
<line x1="339.30" y1="122.67" x2="341.50" y2="122.67" stroke="#4d4d4d" stroke-width="1"/>
<line x1="338.30" y1="105.99" x2="341.50" y2="105.99" stroke="#4d4d4d" stroke-width="1"/>
<text x="331.50" y="109.69" text-anchor="end" font-size="11.3" font-family="Liberation Serif, serif" fill="#111">24</text>
<line x1="339.30" y1="89.30" x2="341.50" y2="89.30" stroke="#4d4d4d" stroke-width="1"/>
<line x1="338.30" y1="72.61" x2="341.50" y2="72.61" stroke="#4d4d4d" stroke-width="1"/>
<text x="331.50" y="76.31" text-anchor="end" font-size="11.3" font-family="Liberation Serif, serif" fill="#111">26</text>
<line x1="339.30" y1="55.92" x2="341.50" y2="55.92" stroke="#4d4d4d" stroke-width="1"/>
<line x1="338.30" y1="39.23" x2="341.50" y2="39.23" stroke="#4d4d4d" stroke-width="1"/>
<text x="331.50" y="42.93" text-anchor="end" font-size="11.3" font-family="Liberation Serif, serif" fill="#111">28</text>
<line x1="339.30" y1="22.54" x2="341.50" y2="22.54" stroke="#4d4d4d" stroke-width="1"/>
<line x1="338.30" y1="5.85" x2="341.50" y2="5.85" stroke="#4d4d4d" stroke-width="1"/>
<text x="331.50" y="9.55" text-anchor="end" font-size="11.3" font-family="Liberation Serif, serif" fill="#111">30</text>
<line x1="341.50" y1="239.50" x2="341.50" y2="243.50" stroke="#4d4d4d" stroke-width="1"/>
<text x="341.10" y="256.90" text-anchor="middle" font-size="11.3" font-family="Liberation Serif, serif" fill="#111">-40</text>
<line x1="362.50" y1="239.50" x2="362.50" y2="242.10" stroke="#4d4d4d" stroke-width="1"/>
<line x1="383.50" y1="239.50" x2="383.50" y2="243.50" stroke="#4d4d4d" stroke-width="1"/>
<text x="383.10" y="256.90" text-anchor="middle" font-size="11.3" font-family="Liberation Serif, serif" fill="#111">-30</text>
<line x1="404.50" y1="239.50" x2="404.50" y2="242.10" stroke="#4d4d4d" stroke-width="1"/>
<line x1="425.50" y1="239.50" x2="425.50" y2="243.50" stroke="#4d4d4d" stroke-width="1"/>
<text x="425.10" y="256.90" text-anchor="middle" font-size="11.3" font-family="Liberation Serif, serif" fill="#111">-20</text>
<line x1="446.50" y1="239.50" x2="446.50" y2="242.10" stroke="#4d4d4d" stroke-width="1"/>
<line x1="467.50" y1="239.50" x2="467.50" y2="243.50" stroke="#4d4d4d" stroke-width="1"/>
<text x="467.10" y="256.90" text-anchor="middle" font-size="11.3" font-family="Liberation Serif, serif" fill="#111">-10</text>
<line x1="488.50" y1="239.50" x2="488.50" y2="242.10" stroke="#4d4d4d" stroke-width="1"/>
<line x1="509.50" y1="239.50" x2="509.50" y2="243.50" stroke="#4d4d4d" stroke-width="1"/>
<text x="509.50" y="256.90" text-anchor="middle" font-size="11.3" font-family="Liberation Serif, serif" fill="#111">0</text>
<line x1="530.50" y1="239.50" x2="530.50" y2="242.10" stroke="#4d4d4d" stroke-width="1"/>
<line x1="551.50" y1="239.50" x2="551.50" y2="243.50" stroke="#4d4d4d" stroke-width="1"/>
<text x="551.50" y="256.90" text-anchor="middle" font-size="11.3" font-family="Liberation Serif, serif" fill="#111">10</text>
<line x1="572.50" y1="239.50" x2="572.50" y2="242.10" stroke="#4d4d4d" stroke-width="1"/>
<line x1="593.50" y1="239.50" x2="593.50" y2="243.50" stroke="#4d4d4d" stroke-width="1"/>
<text x="593.50" y="256.90" text-anchor="middle" font-size="11.3" font-family="Liberation Serif, serif" fill="#111">20</text>
<line x1="614.50" y1="239.50" x2="614.50" y2="242.10" stroke="#4d4d4d" stroke-width="1"/>
<line x1="635.50" y1="239.50" x2="635.50" y2="243.50" stroke="#4d4d4d" stroke-width="1"/>
<text x="635.50" y="256.90" text-anchor="middle" font-size="11.3" font-family="Liberation Serif, serif" fill="#111">30</text>
<line x1="656.50" y1="239.50" x2="656.50" y2="242.10" stroke="#4d4d4d" stroke-width="1"/>
<line x1="677.50" y1="239.50" x2="677.50" y2="243.50" stroke="#4d4d4d" stroke-width="1"/>
<text x="677.50" y="256.90" text-anchor="middle" font-size="11.3" font-family="Liberation Serif, serif" fill="#111">40</text>
<text transform="translate(308.70,106.60) rotate(-90)" text-anchor="middle" font-size="12" font-weight="bold" font-family="Liberation Serif, serif" fill="#111">Predicted FV (cm)</text>
<text x="508.40" y="276.90" text-anchor="middle" font-size="11.8" font-weight="bold" font-family="Liberation Serif, serif" fill="#111">Error (%)</text>
<text x="351.90" y="23.00" font-size="12.9" font-weight="bold" font-family="Liberation Serif, serif" fill="#111">ANN</text>
<text x="352.30" y="46.20" font-size="13.2" font-weight="bold" font-style="italic" font-family="Liberation Serif, serif" fill="#8c8c8c">Training set</text>
<text x="351.00" y="67.30" font-size="11.8" font-weight="bold" font-style="italic" font-family="Liberation Serif, serif" fill="#111">A10-index = 98.50%</text>
<clipPath id="cml"><rect x="44.5" y="326.0" width="220.5" height="228.60000000000002"/></clipPath>
<g clip-path="url(#cml)">
<line x1="13.00" y1="564.40" x2="265.00" y2="277.01" stroke="#dcdcdc" stroke-width="0.9" stroke-dasharray="4.2 3.6"/>
<line x1="44.50" y1="580.73" x2="296.50" y2="345.59" stroke="#dcdcdc" stroke-width="0.9" stroke-dasharray="4.2 3.6"/>
<line x1="44.50" y1="554.60" x2="265.00" y2="326.00" stroke="#5a5a5a" stroke-width="1"/>
<circle cx="80.2" cy="484.5" r="3.35" fill="none" stroke="#2626ff" stroke-width="0.95"/>
<circle cx="83.9" cy="489.6" r="3.35" fill="none" stroke="#2626ff" stroke-width="0.95"/>
<circle cx="91.6" cy="540.0" r="3.35" fill="none" stroke="#2626ff" stroke-width="0.95"/>
<circle cx="96.7" cy="505.7" r="3.35" fill="none" stroke="#2626ff" stroke-width="0.95"/>
<circle cx="99.2" cy="505.7" r="3.35" fill="none" stroke="#2626ff" stroke-width="0.95"/>
<circle cx="98.9" cy="495.8" r="3.35" fill="none" stroke="#2626ff" stroke-width="0.95"/>
<circle cx="104.3" cy="494.0" r="3.35" fill="none" stroke="#2626ff" stroke-width="0.95"/>
<circle cx="111.9" cy="486.0" r="3.35" fill="none" stroke="#2626ff" stroke-width="0.95"/>
<circle cx="111.9" cy="482.8" r="3.35" fill="none" stroke="#2626ff" stroke-width="0.95"/>
<circle cx="115.3" cy="479.4" r="3.35" fill="none" stroke="#2626ff" stroke-width="0.95"/>
<circle cx="115.0" cy="480.2" r="3.35" fill="none" stroke="#2626ff" stroke-width="0.95"/>
<circle cx="122.8" cy="458.7" r="3.35" fill="none" stroke="#2626ff" stroke-width="0.95"/>
<circle cx="128.0" cy="469.2" r="3.35" fill="none" stroke="#2626ff" stroke-width="0.95"/>
<circle cx="130.9" cy="466.3" r="3.35" fill="none" stroke="#2626ff" stroke-width="0.95"/>
<circle cx="136.0" cy="459.0" r="3.35" fill="none" stroke="#2626ff" stroke-width="0.95"/>
<circle cx="155.1" cy="443.2" r="3.35" fill="none" stroke="#2626ff" stroke-width="0.95"/>
<circle cx="223.1" cy="366.8" r="3.35" fill="none" stroke="#2626ff" stroke-width="0.95"/>
<circle cx="223.1" cy="375.1" r="3.35" fill="none" stroke="#2626ff" stroke-width="0.95"/>
<circle cx="214.3" cy="379.9" r="3.35" fill="none" stroke="#2626ff" stroke-width="0.95"/>
<circle cx="201.9" cy="393.4" r="3.35" fill="none" stroke="#2626ff" stroke-width="0.95"/>
<circle cx="186.3" cy="417.2" r="3.35" fill="none" stroke="#2626ff" stroke-width="0.95"/>
<circle cx="199.0" cy="432.0" r="3.35" fill="none" stroke="#2626ff" stroke-width="0.95"/>
<circle cx="112.2" cy="485.6" r="3.35" fill="none" stroke="#2626ff" stroke-width="0.95"/>
</g>
<rect x="44.50" y="326.00" width="220.50" height="228.60" fill="none" stroke="#4d4d4d" stroke-width="1.1"/>
<text x="181.70" y="343.70" font-size="12.4" font-style="italic" font-family="Liberation Serif, serif" fill="#222">y = 1.1x</text>
<text x="218.90" y="410.40" font-size="12.4" font-style="italic" font-family="Liberation Serif, serif" fill="#222">y = 0.9x</text>
<line x1="41.30" y1="554.60" x2="44.50" y2="554.60" stroke="#4d4d4d" stroke-width="1"/>
<text x="34.00" y="558.30" text-anchor="end" font-size="11.3" font-family="Liberation Serif, serif" fill="#111">16</text>
<line x1="42.30" y1="538.27" x2="44.50" y2="538.27" stroke="#4d4d4d" stroke-width="1"/>
<line x1="41.30" y1="521.94" x2="44.50" y2="521.94" stroke="#4d4d4d" stroke-width="1"/>
<text x="34.00" y="525.64" text-anchor="end" font-size="11.3" font-family="Liberation Serif, serif" fill="#111">18</text>
<line x1="42.30" y1="505.61" x2="44.50" y2="505.61" stroke="#4d4d4d" stroke-width="1"/>
<line x1="41.30" y1="489.29" x2="44.50" y2="489.29" stroke="#4d4d4d" stroke-width="1"/>
<text x="34.00" y="492.99" text-anchor="end" font-size="11.3" font-family="Liberation Serif, serif" fill="#111">20</text>
<line x1="42.30" y1="472.96" x2="44.50" y2="472.96" stroke="#4d4d4d" stroke-width="1"/>
<line x1="41.30" y1="456.63" x2="44.50" y2="456.63" stroke="#4d4d4d" stroke-width="1"/>
<text x="34.00" y="460.33" text-anchor="end" font-size="11.3" font-family="Liberation Serif, serif" fill="#111">22</text>
<line x1="42.30" y1="440.30" x2="44.50" y2="440.30" stroke="#4d4d4d" stroke-width="1"/>
<line x1="41.30" y1="423.97" x2="44.50" y2="423.97" stroke="#4d4d4d" stroke-width="1"/>
<text x="34.00" y="427.67" text-anchor="end" font-size="11.3" font-family="Liberation Serif, serif" fill="#111">24</text>
<line x1="42.30" y1="407.64" x2="44.50" y2="407.64" stroke="#4d4d4d" stroke-width="1"/>
<line x1="41.30" y1="391.31" x2="44.50" y2="391.31" stroke="#4d4d4d" stroke-width="1"/>
<text x="34.00" y="395.01" text-anchor="end" font-size="11.3" font-family="Liberation Serif, serif" fill="#111">26</text>
<line x1="42.30" y1="374.99" x2="44.50" y2="374.99" stroke="#4d4d4d" stroke-width="1"/>
<line x1="41.30" y1="358.66" x2="44.50" y2="358.66" stroke="#4d4d4d" stroke-width="1"/>
<text x="34.00" y="362.36" text-anchor="end" font-size="11.3" font-family="Liberation Serif, serif" fill="#111">28</text>
<line x1="42.30" y1="342.33" x2="44.50" y2="342.33" stroke="#4d4d4d" stroke-width="1"/>
<line x1="41.30" y1="326.00" x2="44.50" y2="326.00" stroke="#4d4d4d" stroke-width="1"/>
<text x="34.00" y="329.70" text-anchor="end" font-size="11.3" font-family="Liberation Serif, serif" fill="#111">30</text>
<line x1="44.50" y1="554.60" x2="44.50" y2="558.60" stroke="#4d4d4d" stroke-width="1"/>
<text x="44.50" y="571.90" text-anchor="middle" font-size="11.3" font-family="Liberation Serif, serif" fill="#111">16</text>
<line x1="60.25" y1="554.60" x2="60.25" y2="557.20" stroke="#4d4d4d" stroke-width="1"/>
<line x1="76.00" y1="554.60" x2="76.00" y2="558.60" stroke="#4d4d4d" stroke-width="1"/>
<text x="76.00" y="571.90" text-anchor="middle" font-size="11.3" font-family="Liberation Serif, serif" fill="#111">18</text>
<line x1="91.75" y1="554.60" x2="91.75" y2="557.20" stroke="#4d4d4d" stroke-width="1"/>
<line x1="107.50" y1="554.60" x2="107.50" y2="558.60" stroke="#4d4d4d" stroke-width="1"/>
<text x="107.50" y="571.90" text-anchor="middle" font-size="11.3" font-family="Liberation Serif, serif" fill="#111">20</text>
<line x1="123.25" y1="554.60" x2="123.25" y2="557.20" stroke="#4d4d4d" stroke-width="1"/>
<line x1="139.00" y1="554.60" x2="139.00" y2="558.60" stroke="#4d4d4d" stroke-width="1"/>
<text x="139.00" y="571.90" text-anchor="middle" font-size="11.3" font-family="Liberation Serif, serif" fill="#111">22</text>
<line x1="154.75" y1="554.60" x2="154.75" y2="557.20" stroke="#4d4d4d" stroke-width="1"/>
<line x1="170.50" y1="554.60" x2="170.50" y2="558.60" stroke="#4d4d4d" stroke-width="1"/>
<text x="170.50" y="571.90" text-anchor="middle" font-size="11.3" font-family="Liberation Serif, serif" fill="#111">24</text>
<line x1="186.25" y1="554.60" x2="186.25" y2="557.20" stroke="#4d4d4d" stroke-width="1"/>
<line x1="202.00" y1="554.60" x2="202.00" y2="558.60" stroke="#4d4d4d" stroke-width="1"/>
<text x="202.00" y="571.90" text-anchor="middle" font-size="11.3" font-family="Liberation Serif, serif" fill="#111">26</text>
<line x1="217.75" y1="554.60" x2="217.75" y2="557.20" stroke="#4d4d4d" stroke-width="1"/>
<line x1="233.50" y1="554.60" x2="233.50" y2="558.60" stroke="#4d4d4d" stroke-width="1"/>
<text x="233.50" y="571.90" text-anchor="middle" font-size="11.3" font-family="Liberation Serif, serif" fill="#111">28</text>
<line x1="249.25" y1="554.60" x2="249.25" y2="557.20" stroke="#4d4d4d" stroke-width="1"/>
<line x1="265.00" y1="554.60" x2="265.00" y2="558.60" stroke="#4d4d4d" stroke-width="1"/>
<text x="265.00" y="571.90" text-anchor="middle" font-size="11.3" font-family="Liberation Serif, serif" fill="#111">30</text>
<text transform="translate(13.10,424.00) rotate(-90)" text-anchor="middle" font-size="12" font-weight="bold" font-family="Liberation Serif, serif" fill="#111">Predicted FV (cm)</text>
<text x="144.70" y="591.50" text-anchor="middle" font-size="11.8" font-weight="bold" font-family="Liberation Serif, serif" fill="#111">Measured FV (cm)</text>
<text x="51.60" y="345.40" font-size="12.9" font-weight="bold" font-family="Liberation Serif, serif" fill="#111">ANN</text>
<text x="51.70" y="368.80" font-size="13.2" font-weight="bold" font-style="italic" font-family="Liberation Serif, serif" fill="#1f1fff">Validating set</text>
<text x="51.00" y="390.00" font-size="12.2" font-weight="bold" font-style="italic" font-family="Liberation Serif, serif" fill="#111">R² = 0.91</text>
<rect x="466.50" y="323.30" width="82.70" height="233.10" fill="url(#gg)"/>
<line x1="507.70" y1="323.30" x2="507.70" y2="556.40" stroke="#3a3a3a" stroke-width="1"/>
<line x1="466.50" y1="323.30" x2="466.50" y2="551.40" stroke="#3c3c3c" stroke-width="1.05" stroke-dasharray="5.1 2.6"/>
<path d="M466.50 556.40 L462.10 547.80 L466.50 551.00 L470.90 547.80 Z" fill="#111"/>
<line x1="549.20" y1="323.30" x2="549.20" y2="551.40" stroke="#3c3c3c" stroke-width="1.05" stroke-dasharray="5.1 2.6"/>
<path d="M549.20 556.40 L544.80 547.80 L549.20 551.00 L553.60 547.80 Z" fill="#111"/>
<circle cx="511.0" cy="364.5" r="3.35" fill="none" stroke="#2626ff" stroke-width="0.95"/>
<circle cx="503.4" cy="372.8" r="3.35" fill="none" stroke="#2626ff" stroke-width="0.95"/>
<circle cx="506.4" cy="377.7" r="3.35" fill="none" stroke="#2626ff" stroke-width="0.95"/>
<circle cx="505.7" cy="392.0" r="3.35" fill="none" stroke="#2626ff" stroke-width="0.95"/>
<circle cx="497.8" cy="415.9" r="3.35" fill="none" stroke="#2626ff" stroke-width="0.95"/>
<circle cx="471.4" cy="431.1" r="3.35" fill="none" stroke="#2626ff" stroke-width="0.95"/>
<circle cx="504.0" cy="442.5" r="3.35" fill="none" stroke="#2626ff" stroke-width="0.95"/>
<circle cx="509.0" cy="458.4" r="3.35" fill="none" stroke="#2626ff" stroke-width="0.95"/>
<circle cx="524.8" cy="458.4" r="3.35" fill="none" stroke="#2626ff" stroke-width="0.95"/>
<circle cx="505.7" cy="466.3" r="3.35" fill="none" stroke="#2626ff" stroke-width="0.95"/>
<circle cx="506.4" cy="468.9" r="3.35" fill="none" stroke="#2626ff" stroke-width="0.95"/>
<circle cx="509.6" cy="479.9" r="3.35" fill="none" stroke="#2626ff" stroke-width="0.95"/>
<circle cx="510.1" cy="482.6" r="3.35" fill="none" stroke="#2626ff" stroke-width="0.95"/>
<circle cx="505.7" cy="486.1" r="3.35" fill="none" stroke="#2626ff" stroke-width="0.95"/>
<circle cx="506.2" cy="486.3" r="3.35" fill="none" stroke="#2626ff" stroke-width="0.95"/>
<circle cx="506.1" cy="493.8" r="3.35" fill="none" stroke="#2626ff" stroke-width="0.95"/>
<circle cx="509.6" cy="496.4" r="3.35" fill="none" stroke="#2626ff" stroke-width="0.95"/>
<circle cx="497.3" cy="506.6" r="3.35" fill="none" stroke="#2626ff" stroke-width="0.95"/>
<circle cx="501.7" cy="506.6" r="3.35" fill="none" stroke="#2626ff" stroke-width="0.95"/>
<circle cx="541.5" cy="489.6" r="3.35" fill="none" stroke="#2626ff" stroke-width="0.95"/>
<circle cx="553.4" cy="484.7" r="3.35" fill="none" stroke="#2626ff" stroke-width="0.95"/>
<circle cx="462.3" cy="541.6" r="3.35" fill="none" stroke="#2626ff" stroke-width="0.95"/>
<circle cx="509.3" cy="480.5" r="3.35" fill="none" stroke="#2626ff" stroke-width="0.95"/>
<rect x="342.30" y="323.30" width="331.80" height="233.10" fill="none" stroke="#4d4d4d" stroke-width="1.1"/>
<line x1="339.10" y1="556.40" x2="342.30" y2="556.40" stroke="#4d4d4d" stroke-width="1"/>
<text x="331.50" y="560.10" text-anchor="end" font-size="11.3" font-family="Liberation Serif, serif" fill="#111">16</text>
<line x1="340.10" y1="539.75" x2="342.30" y2="539.75" stroke="#4d4d4d" stroke-width="1"/>
<line x1="339.10" y1="523.10" x2="342.30" y2="523.10" stroke="#4d4d4d" stroke-width="1"/>
<text x="331.50" y="526.80" text-anchor="end" font-size="11.3" font-family="Liberation Serif, serif" fill="#111">18</text>
<line x1="340.10" y1="506.45" x2="342.30" y2="506.45" stroke="#4d4d4d" stroke-width="1"/>
<line x1="339.10" y1="489.80" x2="342.30" y2="489.80" stroke="#4d4d4d" stroke-width="1"/>
<text x="331.50" y="493.50" text-anchor="end" font-size="11.3" font-family="Liberation Serif, serif" fill="#111">20</text>
<line x1="340.10" y1="473.15" x2="342.30" y2="473.15" stroke="#4d4d4d" stroke-width="1"/>
<line x1="339.10" y1="456.50" x2="342.30" y2="456.50" stroke="#4d4d4d" stroke-width="1"/>
<text x="331.50" y="460.20" text-anchor="end" font-size="11.3" font-family="Liberation Serif, serif" fill="#111">22</text>
<line x1="340.10" y1="439.85" x2="342.30" y2="439.85" stroke="#4d4d4d" stroke-width="1"/>
<line x1="339.10" y1="423.20" x2="342.30" y2="423.20" stroke="#4d4d4d" stroke-width="1"/>
<text x="331.50" y="426.90" text-anchor="end" font-size="11.3" font-family="Liberation Serif, serif" fill="#111">24</text>
<line x1="340.10" y1="406.55" x2="342.30" y2="406.55" stroke="#4d4d4d" stroke-width="1"/>
<line x1="339.10" y1="389.90" x2="342.30" y2="389.90" stroke="#4d4d4d" stroke-width="1"/>
<text x="331.50" y="393.60" text-anchor="end" font-size="11.3" font-family="Liberation Serif, serif" fill="#111">26</text>
<line x1="340.10" y1="373.25" x2="342.30" y2="373.25" stroke="#4d4d4d" stroke-width="1"/>
<line x1="339.10" y1="356.60" x2="342.30" y2="356.60" stroke="#4d4d4d" stroke-width="1"/>
<text x="331.50" y="360.30" text-anchor="end" font-size="11.3" font-family="Liberation Serif, serif" fill="#111">28</text>
<line x1="340.10" y1="339.95" x2="342.30" y2="339.95" stroke="#4d4d4d" stroke-width="1"/>
<line x1="339.10" y1="323.30" x2="342.30" y2="323.30" stroke="#4d4d4d" stroke-width="1"/>
<text x="331.50" y="327.00" text-anchor="end" font-size="11.3" font-family="Liberation Serif, serif" fill="#111">30</text>
<line x1="342.30" y1="556.40" x2="342.30" y2="560.40" stroke="#4d4d4d" stroke-width="1"/>
<text x="341.90" y="573.50" text-anchor="middle" font-size="11.3" font-family="Liberation Serif, serif" fill="#111">-40</text>
<line x1="363.04" y1="556.40" x2="363.04" y2="559.00" stroke="#4d4d4d" stroke-width="1"/>
<line x1="383.78" y1="556.40" x2="383.78" y2="560.40" stroke="#4d4d4d" stroke-width="1"/>
<text x="383.38" y="573.50" text-anchor="middle" font-size="11.3" font-family="Liberation Serif, serif" fill="#111">-30</text>
<line x1="404.51" y1="556.40" x2="404.51" y2="559.00" stroke="#4d4d4d" stroke-width="1"/>
<line x1="425.25" y1="556.40" x2="425.25" y2="560.40" stroke="#4d4d4d" stroke-width="1"/>
<text x="424.85" y="573.50" text-anchor="middle" font-size="11.3" font-family="Liberation Serif, serif" fill="#111">-20</text>
<line x1="445.99" y1="556.40" x2="445.99" y2="559.00" stroke="#4d4d4d" stroke-width="1"/>
<line x1="466.73" y1="556.40" x2="466.73" y2="560.40" stroke="#4d4d4d" stroke-width="1"/>
<text x="466.33" y="573.50" text-anchor="middle" font-size="11.3" font-family="Liberation Serif, serif" fill="#111">-10</text>
<line x1="487.46" y1="556.40" x2="487.46" y2="559.00" stroke="#4d4d4d" stroke-width="1"/>
<line x1="508.20" y1="556.40" x2="508.20" y2="560.40" stroke="#4d4d4d" stroke-width="1"/>
<text x="508.20" y="573.50" text-anchor="middle" font-size="11.3" font-family="Liberation Serif, serif" fill="#111">0</text>
<line x1="528.94" y1="556.40" x2="528.94" y2="559.00" stroke="#4d4d4d" stroke-width="1"/>
<line x1="549.67" y1="556.40" x2="549.67" y2="560.40" stroke="#4d4d4d" stroke-width="1"/>
<text x="549.67" y="573.50" text-anchor="middle" font-size="11.3" font-family="Liberation Serif, serif" fill="#111">10</text>
<line x1="570.41" y1="556.40" x2="570.41" y2="559.00" stroke="#4d4d4d" stroke-width="1"/>
<line x1="591.15" y1="556.40" x2="591.15" y2="560.40" stroke="#4d4d4d" stroke-width="1"/>
<text x="591.15" y="573.50" text-anchor="middle" font-size="11.3" font-family="Liberation Serif, serif" fill="#111">20</text>
<line x1="611.89" y1="556.40" x2="611.89" y2="559.00" stroke="#4d4d4d" stroke-width="1"/>
<line x1="632.62" y1="556.40" x2="632.62" y2="560.40" stroke="#4d4d4d" stroke-width="1"/>
<text x="632.62" y="573.50" text-anchor="middle" font-size="11.3" font-family="Liberation Serif, serif" fill="#111">30</text>
<line x1="653.36" y1="556.40" x2="653.36" y2="559.00" stroke="#4d4d4d" stroke-width="1"/>
<line x1="674.10" y1="556.40" x2="674.10" y2="560.40" stroke="#4d4d4d" stroke-width="1"/>
<text x="674.10" y="573.50" text-anchor="middle" font-size="11.3" font-family="Liberation Serif, serif" fill="#111">40</text>
<text transform="translate(309.40,424.00) rotate(-90)" text-anchor="middle" font-size="12" font-weight="bold" font-family="Liberation Serif, serif" fill="#111">Predicted FV (cm)</text>
<text x="507.20" y="594.30" text-anchor="middle" font-size="11.8" font-weight="bold" font-family="Liberation Serif, serif" fill="#111">Error (%)</text>
<text x="352.90" y="341.30" font-size="12.9" font-weight="bold" font-family="Liberation Serif, serif" fill="#111">ANN</text>
<text x="353.60" y="364.60" font-size="13.2" font-weight="bold" font-style="italic" font-family="Liberation Serif, serif" fill="#1f1fff">Validating set</text>
<text x="352.50" y="385.90" font-size="11.8" font-weight="bold" font-style="italic" font-family="Liberation Serif, serif" fill="#111">A10-index = 91.3%</text>
<clipPath id="cbl"><rect x="41.5" y="648.3" width="223.5" height="225.20000000000005"/></clipPath>
<g clip-path="url(#cbl)">
<line x1="9.57" y1="883.15" x2="265.00" y2="600.04" stroke="#dcdcdc" stroke-width="0.9" stroke-dasharray="4.2 3.6"/>
<line x1="41.50" y1="899.24" x2="296.93" y2="667.60" stroke="#dcdcdc" stroke-width="0.9" stroke-dasharray="4.2 3.6"/>
<line x1="41.50" y1="873.50" x2="265.00" y2="648.30" stroke="#5a5a5a" stroke-width="1"/>
<circle cx="78.0" cy="836.0" r="3.35" fill="none" stroke="#ff2a2a" stroke-width="0.95"/>
<circle cx="85.9" cy="828.5" r="3.35" fill="none" stroke="#ff2a2a" stroke-width="0.95"/>
<circle cx="93.8" cy="817.1" r="3.35" fill="none" stroke="#ff2a2a" stroke-width="0.95"/>
<circle cx="97.1" cy="816.7" r="3.35" fill="none" stroke="#ff2a2a" stroke-width="0.95"/>
<circle cx="96.8" cy="812.4" r="3.35" fill="none" stroke="#ff2a2a" stroke-width="0.95"/>
<circle cx="97.2" cy="812.8" r="3.35" fill="none" stroke="#ff2a2a" stroke-width="0.95"/>
<circle cx="109.6" cy="806.6" r="3.35" fill="none" stroke="#ff2a2a" stroke-width="0.95"/>
<circle cx="109.6" cy="827.6" r="3.35" fill="none" stroke="#ff2a2a" stroke-width="0.95"/>
<circle cx="137.1" cy="828.5" r="3.35" fill="none" stroke="#ff2a2a" stroke-width="0.95"/>
<circle cx="121.0" cy="792.6" r="3.35" fill="none" stroke="#ff2a2a" stroke-width="0.95"/>
<circle cx="126.0" cy="788.2" r="3.35" fill="none" stroke="#ff2a2a" stroke-width="0.95"/>
<circle cx="129.2" cy="786.4" r="3.35" fill="none" stroke="#ff2a2a" stroke-width="0.95"/>
<circle cx="126.4" cy="787.8" r="3.35" fill="none" stroke="#ff2a2a" stroke-width="0.95"/>
<circle cx="133.9" cy="779.9" r="3.35" fill="none" stroke="#ff2a2a" stroke-width="0.95"/>
<circle cx="137.1" cy="775.0" r="3.35" fill="none" stroke="#ff2a2a" stroke-width="0.95"/>
<circle cx="121.0" cy="772.4" r="3.35" fill="none" stroke="#ff2a2a" stroke-width="0.95"/>
<circle cx="129.2" cy="768.9" r="3.35" fill="none" stroke="#ff2a2a" stroke-width="0.95"/>
<circle cx="145.0" cy="758.9" r="3.35" fill="none" stroke="#ff2a2a" stroke-width="0.95"/>
<circle cx="237.6" cy="675.6" r="3.35" fill="none" stroke="#ff2a2a" stroke-width="0.95"/>
<circle cx="217.3" cy="696.6" r="3.35" fill="none" stroke="#ff2a2a" stroke-width="0.95"/>
<circle cx="209.1" cy="704.8" r="3.35" fill="none" stroke="#ff2a2a" stroke-width="0.95"/>
<circle cx="206.1" cy="707.4" r="3.35" fill="none" stroke="#ff2a2a" stroke-width="0.95"/>
<circle cx="197.7" cy="716.2" r="3.35" fill="none" stroke="#ff2a2a" stroke-width="0.95"/>
</g>
<rect x="41.50" y="648.30" width="223.50" height="225.20" fill="none" stroke="#4d4d4d" stroke-width="1.1"/>
<text x="156.30" y="667.00" font-size="12.4" font-style="italic" font-family="Liberation Serif, serif" fill="#222">y = 1.1x</text>
<text x="213.40" y="752.10" font-size="12.4" font-style="italic" font-family="Liberation Serif, serif" fill="#222">y = 0.9x</text>
<line x1="38.30" y1="873.50" x2="41.50" y2="873.50" stroke="#4d4d4d" stroke-width="1"/>
<text x="30.90" y="877.20" text-anchor="end" font-size="11.3" font-family="Liberation Serif, serif" fill="#111">16</text>
<line x1="39.30" y1="857.41" x2="41.50" y2="857.41" stroke="#4d4d4d" stroke-width="1"/>
<line x1="38.30" y1="841.33" x2="41.50" y2="841.33" stroke="#4d4d4d" stroke-width="1"/>
<text x="30.90" y="845.03" text-anchor="end" font-size="11.3" font-family="Liberation Serif, serif" fill="#111">18</text>
<line x1="39.30" y1="825.24" x2="41.50" y2="825.24" stroke="#4d4d4d" stroke-width="1"/>
<line x1="38.30" y1="809.16" x2="41.50" y2="809.16" stroke="#4d4d4d" stroke-width="1"/>
<text x="30.90" y="812.86" text-anchor="end" font-size="11.3" font-family="Liberation Serif, serif" fill="#111">20</text>
<line x1="39.30" y1="793.07" x2="41.50" y2="793.07" stroke="#4d4d4d" stroke-width="1"/>
<line x1="38.30" y1="776.99" x2="41.50" y2="776.99" stroke="#4d4d4d" stroke-width="1"/>
<text x="30.90" y="780.69" text-anchor="end" font-size="11.3" font-family="Liberation Serif, serif" fill="#111">22</text>
<line x1="39.30" y1="760.90" x2="41.50" y2="760.90" stroke="#4d4d4d" stroke-width="1"/>
<line x1="38.30" y1="744.81" x2="41.50" y2="744.81" stroke="#4d4d4d" stroke-width="1"/>
<text x="30.90" y="748.51" text-anchor="end" font-size="11.3" font-family="Liberation Serif, serif" fill="#111">24</text>
<line x1="39.30" y1="728.73" x2="41.50" y2="728.73" stroke="#4d4d4d" stroke-width="1"/>
<line x1="38.30" y1="712.64" x2="41.50" y2="712.64" stroke="#4d4d4d" stroke-width="1"/>
<text x="30.90" y="716.34" text-anchor="end" font-size="11.3" font-family="Liberation Serif, serif" fill="#111">26</text>
<line x1="39.30" y1="696.56" x2="41.50" y2="696.56" stroke="#4d4d4d" stroke-width="1"/>
<line x1="38.30" y1="680.47" x2="41.50" y2="680.47" stroke="#4d4d4d" stroke-width="1"/>
<text x="30.90" y="684.17" text-anchor="end" font-size="11.3" font-family="Liberation Serif, serif" fill="#111">28</text>
<line x1="39.30" y1="664.39" x2="41.50" y2="664.39" stroke="#4d4d4d" stroke-width="1"/>
<line x1="38.30" y1="648.30" x2="41.50" y2="648.30" stroke="#4d4d4d" stroke-width="1"/>
<text x="30.90" y="652.00" text-anchor="end" font-size="11.3" font-family="Liberation Serif, serif" fill="#111">30</text>
<line x1="41.50" y1="873.50" x2="41.50" y2="877.50" stroke="#4d4d4d" stroke-width="1"/>
<text x="41.50" y="890.60" text-anchor="middle" font-size="11.3" font-family="Liberation Serif, serif" fill="#111">16</text>
<line x1="57.46" y1="873.50" x2="57.46" y2="876.10" stroke="#4d4d4d" stroke-width="1"/>
<line x1="73.43" y1="873.50" x2="73.43" y2="877.50" stroke="#4d4d4d" stroke-width="1"/>
<text x="73.43" y="890.60" text-anchor="middle" font-size="11.3" font-family="Liberation Serif, serif" fill="#111">18</text>
<line x1="89.39" y1="873.50" x2="89.39" y2="876.10" stroke="#4d4d4d" stroke-width="1"/>
<line x1="105.36" y1="873.50" x2="105.36" y2="877.50" stroke="#4d4d4d" stroke-width="1"/>
<text x="105.36" y="890.60" text-anchor="middle" font-size="11.3" font-family="Liberation Serif, serif" fill="#111">20</text>
<line x1="121.32" y1="873.50" x2="121.32" y2="876.10" stroke="#4d4d4d" stroke-width="1"/>
<line x1="137.29" y1="873.50" x2="137.29" y2="877.50" stroke="#4d4d4d" stroke-width="1"/>
<text x="137.29" y="890.60" text-anchor="middle" font-size="11.3" font-family="Liberation Serif, serif" fill="#111">22</text>
<line x1="153.25" y1="873.50" x2="153.25" y2="876.10" stroke="#4d4d4d" stroke-width="1"/>
<line x1="169.21" y1="873.50" x2="169.21" y2="877.50" stroke="#4d4d4d" stroke-width="1"/>
<text x="169.21" y="890.60" text-anchor="middle" font-size="11.3" font-family="Liberation Serif, serif" fill="#111">24</text>
<line x1="185.18" y1="873.50" x2="185.18" y2="876.10" stroke="#4d4d4d" stroke-width="1"/>
<line x1="201.14" y1="873.50" x2="201.14" y2="877.50" stroke="#4d4d4d" stroke-width="1"/>
<text x="201.14" y="890.60" text-anchor="middle" font-size="11.3" font-family="Liberation Serif, serif" fill="#111">26</text>
<line x1="217.11" y1="873.50" x2="217.11" y2="876.10" stroke="#4d4d4d" stroke-width="1"/>
<line x1="233.07" y1="873.50" x2="233.07" y2="877.50" stroke="#4d4d4d" stroke-width="1"/>
<text x="233.07" y="890.60" text-anchor="middle" font-size="11.3" font-family="Liberation Serif, serif" fill="#111">28</text>
<line x1="249.04" y1="873.50" x2="249.04" y2="876.10" stroke="#4d4d4d" stroke-width="1"/>
<line x1="265.00" y1="873.50" x2="265.00" y2="877.50" stroke="#4d4d4d" stroke-width="1"/>
<text x="265.00" y="890.60" text-anchor="middle" font-size="11.3" font-family="Liberation Serif, serif" fill="#111">30</text>
<text transform="translate(9.90,746.00) rotate(-90)" text-anchor="middle" font-size="12" font-weight="bold" font-family="Liberation Serif, serif" fill="#111">Predicted FV (cm)</text>
<text x="141.80" y="909.60" text-anchor="middle" font-size="11.8" font-weight="bold" font-family="Liberation Serif, serif" fill="#111">Measured FV (cm)</text>
<text x="50.00" y="668.30" font-size="12.9" font-weight="bold" font-family="Liberation Serif, serif" fill="#111">ANN</text>
<text x="50.20" y="691.60" font-size="13.2" font-weight="bold" font-style="italic" font-family="Liberation Serif, serif" fill="#ff1616">Testing set</text>
<text x="49.70" y="712.90" font-size="12.2" font-weight="bold" font-style="italic" font-family="Liberation Serif, serif" fill="#111">R² = 0.9183</text>
<rect x="467.60" y="646.10" width="84.40" height="228.90" fill="url(#gg)"/>
<line x1="509.90" y1="646.10" x2="509.90" y2="875.00" stroke="#3a3a3a" stroke-width="1"/>
<line x1="467.60" y1="646.10" x2="467.60" y2="870.00" stroke="#3c3c3c" stroke-width="1.05" stroke-dasharray="5.1 2.6"/>
<path d="M467.60 875.00 L463.20 866.40 L467.60 869.60 L472.00 866.40 Z" fill="#111"/>
<line x1="552.00" y1="646.10" x2="552.00" y2="870.00" stroke="#3c3c3c" stroke-width="1.05" stroke-dasharray="5.1 2.6"/>
<path d="M552.00 875.00 L547.60 866.40 L552.00 869.60 L556.40 866.40 Z" fill="#111"/>
<circle cx="509.9" cy="673.5" r="3.35" fill="none" stroke="#ff2a2a" stroke-width="0.95"/>
<circle cx="509.9" cy="695.0" r="3.35" fill="none" stroke="#ff2a2a" stroke-width="0.95"/>
<circle cx="509.9" cy="702.5" r="3.35" fill="none" stroke="#ff2a2a" stroke-width="0.95"/>
<circle cx="509.9" cy="705.8" r="3.35" fill="none" stroke="#ff2a2a" stroke-width="0.95"/>
<circle cx="509.9" cy="714.8" r="3.35" fill="none" stroke="#ff2a2a" stroke-width="0.95"/>
<circle cx="520.9" cy="758.9" r="3.35" fill="none" stroke="#ff2a2a" stroke-width="0.95"/>
<circle cx="529.5" cy="767.9" r="3.35" fill="none" stroke="#ff2a2a" stroke-width="0.95"/>
<circle cx="535.7" cy="771.6" r="3.35" fill="none" stroke="#ff2a2a" stroke-width="0.95"/>
<circle cx="512.0" cy="775.2" r="3.35" fill="none" stroke="#ff2a2a" stroke-width="0.95"/>
<circle cx="509.9" cy="780.1" r="3.35" fill="none" stroke="#ff2a2a" stroke-width="0.95"/>
<circle cx="507.7" cy="786.1" r="3.35" fill="none" stroke="#ff2a2a" stroke-width="0.95"/>
<circle cx="510.3" cy="787.5" r="3.35" fill="none" stroke="#ff2a2a" stroke-width="0.95"/>
<circle cx="509.9" cy="792.7" r="3.35" fill="none" stroke="#ff2a2a" stroke-width="0.95"/>
<circle cx="506.2" cy="807.0" r="3.35" fill="none" stroke="#ff2a2a" stroke-width="0.95"/>
<circle cx="515.4" cy="813.1" r="3.35" fill="none" stroke="#ff2a2a" stroke-width="0.95"/>
<circle cx="515.0" cy="813.4" r="3.35" fill="none" stroke="#ff2a2a" stroke-width="0.95"/>
<circle cx="514.2" cy="817.2" r="3.35" fill="none" stroke="#ff2a2a" stroke-width="0.95"/>
<circle cx="509.9" cy="817.6" r="3.35" fill="none" stroke="#ff2a2a" stroke-width="0.95"/>
<circle cx="509.9" cy="829.5" r="3.35" fill="none" stroke="#ff2a2a" stroke-width="0.95"/>
<circle cx="509.9" cy="837.3" r="3.35" fill="none" stroke="#ff2a2a" stroke-width="0.95"/>
<circle cx="479.7" cy="828.5" r="3.35" fill="none" stroke="#ff2a2a" stroke-width="0.95"/>
<circle cx="448.0" cy="829.5" r="3.35" fill="none" stroke="#ff2a2a" stroke-width="0.95"/>
<circle cx="508.6" cy="786.6" r="3.35" fill="none" stroke="#ff2a2a" stroke-width="0.95"/>
<rect x="342.30" y="646.10" width="335.20" height="228.90" fill="none" stroke="#4d4d4d" stroke-width="1.1"/>
<line x1="339.10" y1="875.00" x2="342.30" y2="875.00" stroke="#4d4d4d" stroke-width="1"/>
<text x="331.50" y="878.70" text-anchor="end" font-size="11.3" font-family="Liberation Serif, serif" fill="#111">16</text>
<line x1="340.10" y1="858.65" x2="342.30" y2="858.65" stroke="#4d4d4d" stroke-width="1"/>
<line x1="339.10" y1="842.30" x2="342.30" y2="842.30" stroke="#4d4d4d" stroke-width="1"/>
<text x="331.50" y="846.00" text-anchor="end" font-size="11.3" font-family="Liberation Serif, serif" fill="#111">18</text>
<line x1="340.10" y1="825.95" x2="342.30" y2="825.95" stroke="#4d4d4d" stroke-width="1"/>
<line x1="339.10" y1="809.60" x2="342.30" y2="809.60" stroke="#4d4d4d" stroke-width="1"/>
<text x="331.50" y="813.30" text-anchor="end" font-size="11.3" font-family="Liberation Serif, serif" fill="#111">20</text>
<line x1="340.10" y1="793.25" x2="342.30" y2="793.25" stroke="#4d4d4d" stroke-width="1"/>
<line x1="339.10" y1="776.90" x2="342.30" y2="776.90" stroke="#4d4d4d" stroke-width="1"/>
<text x="331.50" y="780.60" text-anchor="end" font-size="11.3" font-family="Liberation Serif, serif" fill="#111">22</text>
<line x1="340.10" y1="760.55" x2="342.30" y2="760.55" stroke="#4d4d4d" stroke-width="1"/>
<line x1="339.10" y1="744.20" x2="342.30" y2="744.20" stroke="#4d4d4d" stroke-width="1"/>
<text x="331.50" y="747.90" text-anchor="end" font-size="11.3" font-family="Liberation Serif, serif" fill="#111">24</text>
<line x1="340.10" y1="727.85" x2="342.30" y2="727.85" stroke="#4d4d4d" stroke-width="1"/>
<line x1="339.10" y1="711.50" x2="342.30" y2="711.50" stroke="#4d4d4d" stroke-width="1"/>
<text x="331.50" y="715.20" text-anchor="end" font-size="11.3" font-family="Liberation Serif, serif" fill="#111">26</text>
<line x1="340.10" y1="695.15" x2="342.30" y2="695.15" stroke="#4d4d4d" stroke-width="1"/>
<line x1="339.10" y1="678.80" x2="342.30" y2="678.80" stroke="#4d4d4d" stroke-width="1"/>
<text x="331.50" y="682.50" text-anchor="end" font-size="11.3" font-family="Liberation Serif, serif" fill="#111">28</text>
<line x1="340.10" y1="662.45" x2="342.30" y2="662.45" stroke="#4d4d4d" stroke-width="1"/>
<line x1="339.10" y1="646.10" x2="342.30" y2="646.10" stroke="#4d4d4d" stroke-width="1"/>
<text x="331.50" y="649.80" text-anchor="end" font-size="11.3" font-family="Liberation Serif, serif" fill="#111">30</text>
<line x1="342.30" y1="875.00" x2="342.30" y2="879.00" stroke="#4d4d4d" stroke-width="1"/>
<text x="341.90" y="891.70" text-anchor="middle" font-size="11.3" font-family="Liberation Serif, serif" fill="#111">-40</text>
<line x1="363.25" y1="875.00" x2="363.25" y2="877.60" stroke="#4d4d4d" stroke-width="1"/>
<line x1="384.20" y1="875.00" x2="384.20" y2="879.00" stroke="#4d4d4d" stroke-width="1"/>
<text x="383.80" y="891.70" text-anchor="middle" font-size="11.3" font-family="Liberation Serif, serif" fill="#111">-30</text>
<line x1="405.15" y1="875.00" x2="405.15" y2="877.60" stroke="#4d4d4d" stroke-width="1"/>
<line x1="426.10" y1="875.00" x2="426.10" y2="879.00" stroke="#4d4d4d" stroke-width="1"/>
<text x="425.70" y="891.70" text-anchor="middle" font-size="11.3" font-family="Liberation Serif, serif" fill="#111">-20</text>
<line x1="447.05" y1="875.00" x2="447.05" y2="877.60" stroke="#4d4d4d" stroke-width="1"/>
<line x1="468.00" y1="875.00" x2="468.00" y2="879.00" stroke="#4d4d4d" stroke-width="1"/>
<text x="467.60" y="891.70" text-anchor="middle" font-size="11.3" font-family="Liberation Serif, serif" fill="#111">-10</text>
<line x1="488.95" y1="875.00" x2="488.95" y2="877.60" stroke="#4d4d4d" stroke-width="1"/>
<line x1="509.90" y1="875.00" x2="509.90" y2="879.00" stroke="#4d4d4d" stroke-width="1"/>
<text x="509.90" y="891.70" text-anchor="middle" font-size="11.3" font-family="Liberation Serif, serif" fill="#111">0</text>
<line x1="530.85" y1="875.00" x2="530.85" y2="877.60" stroke="#4d4d4d" stroke-width="1"/>
<line x1="551.80" y1="875.00" x2="551.80" y2="879.00" stroke="#4d4d4d" stroke-width="1"/>
<text x="551.80" y="891.70" text-anchor="middle" font-size="11.3" font-family="Liberation Serif, serif" fill="#111">10</text>
<line x1="572.75" y1="875.00" x2="572.75" y2="877.60" stroke="#4d4d4d" stroke-width="1"/>
<line x1="593.70" y1="875.00" x2="593.70" y2="879.00" stroke="#4d4d4d" stroke-width="1"/>
<text x="593.70" y="891.70" text-anchor="middle" font-size="11.3" font-family="Liberation Serif, serif" fill="#111">20</text>
<line x1="614.65" y1="875.00" x2="614.65" y2="877.60" stroke="#4d4d4d" stroke-width="1"/>
<line x1="635.60" y1="875.00" x2="635.60" y2="879.00" stroke="#4d4d4d" stroke-width="1"/>
<text x="635.60" y="891.70" text-anchor="middle" font-size="11.3" font-family="Liberation Serif, serif" fill="#111">30</text>
<line x1="656.55" y1="875.00" x2="656.55" y2="877.60" stroke="#4d4d4d" stroke-width="1"/>
<line x1="677.50" y1="875.00" x2="677.50" y2="879.00" stroke="#4d4d4d" stroke-width="1"/>
<text x="677.50" y="891.70" text-anchor="middle" font-size="11.3" font-family="Liberation Serif, serif" fill="#111">40</text>
<text transform="translate(308.70,745.80) rotate(-90)" text-anchor="middle" font-size="12" font-weight="bold" font-family="Liberation Serif, serif" fill="#111">Predicted FV (cm)</text>
<text x="508.40" y="912.10" text-anchor="middle" font-size="11.8" font-weight="bold" font-family="Liberation Serif, serif" fill="#111">Error (%)</text>
<text x="352.30" y="663.70" font-size="12.9" font-weight="bold" font-family="Liberation Serif, serif" fill="#111">ANN</text>
<text x="352.70" y="686.90" font-size="13.2" font-weight="bold" font-style="italic" font-family="Liberation Serif, serif" fill="#ff1616">Testing set</text>
<text x="351.90" y="707.80" font-size="11.8" font-weight="bold" font-style="italic" font-family="Liberation Serif, serif" fill="#111">A10-index = 95.65%</text>
</svg>
</body></html>
